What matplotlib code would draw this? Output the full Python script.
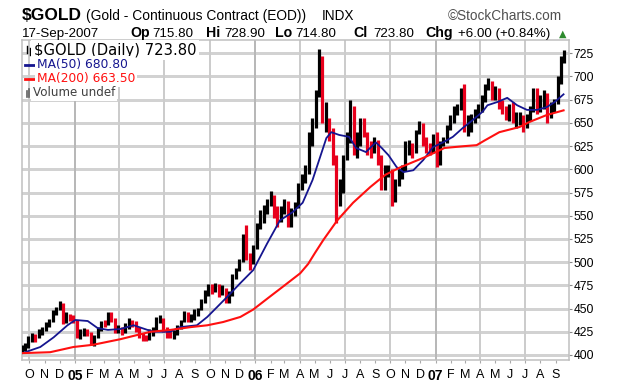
import matplotlib
matplotlib.use('Agg')
import matplotlib.pyplot as plt
import matplotlib.dates as mdates
from matplotlib.lines import Line2D
import pandas as pd

# ---------------- data (weekly bars) ----------------
first_week = '2004-09-17'   # weekly bars, Friday week-ends
last_day = '2007-09-17'     # final (single-day) bar

high = [411, 413, 420, 424, 423, 428, 430, 436, 439, 448, 452, 458, 456, 446, 444, 443,
        438, 428, 429, 428, 425, 422, 430, 437, 438, 446, 446, 440, 432, 430, 434, 440,
        438, 437, 430, 424, 422, 428, 430, 441, 443, 440, 430, 428, 427, 432, 438, 447,
        446, 444, 449, 451, 460, 470, 477, 476, 478, 476, 475, 472, 469, 487, 494, 503,
        530, 540, 510, 518, 542, 556, 562, 568, 577, 572, 560, 560, 568, 566, 558, 565,
        585, 595, 605, 640, 655, 685, 730, 722, 672, 655, 645, 615, 590, 615, 640, 675,
        668, 640, 655, 655, 640, 630, 635, 632, 615, 605, 605, 600, 590, 600, 605, 630,
        632, 628, 642, 652, 650, 635, 628, 638, 640, 630, 635, 648, 658, 668, 670, 688,
        692, 658, 660, 665, 670, 680, 692, 698, 695, 690, 688, 675, 668, 670, 672, 662,
        662, 658, 660, 668, 688, 688, 680, 685, 682, 672, 676, 700, 722, 729]
low = [402, 404, 408, 414, 414, 418, 422, 426, 430, 436, 443, 448, 433, 434, 437, 434,
       418, 417, 420, 420, 411, 410, 418, 426, 430, 432, 436, 424, 424, 422, 424, 428,
       430, 425, 418, 415, 415, 416, 420, 426, 434, 425, 418, 418, 417, 421, 428, 435,
       436, 436, 438, 442, 448, 456, 464, 466, 468, 463, 465, 456, 456, 464, 482, 490,
       500, 502, 492, 498, 514, 536, 542, 552, 560, 548, 538, 543, 552, 538, 538, 550,
       558, 578, 585, 595, 625, 645, 678, 650, 640, 630, 605, 542, 560, 575, 610, 628,
       615, 612, 625, 635, 615, 612, 618, 605, 578, 578, 592, 560, 565, 582, 590, 598,
       615, 612, 618, 638, 625, 618, 615, 618, 602, 605, 625, 628, 642, 650, 658, 664,
       640, 636, 640, 650, 655, 662, 672, 685, 675, 675, 665, 660, 653, 652, 650, 645,
       648, 640, 645, 652, 662, 660, 662, 665, 650, 655, 662, 670, 692, 715]
close = [406, 409, 418, 420, 419, 426, 428, 434, 436, 446, 450, 454, 437, 443, 442, 438,
         420, 423, 427, 423, 415, 420, 428, 435, 433, 444, 440, 427, 428, 425, 430, 437,
         436, 428, 420, 419, 418, 425, 427, 438, 440, 428, 423, 421, 424, 430, 436, 445,
         440, 440, 446, 449, 458, 467, 473, 472, 474, 467, 472, 460, 466, 485, 492, 500,
         525, 505, 500, 513, 540, 550, 557, 566, 570, 555, 545, 555, 565, 540, 554, 560,
         582, 590, 596, 630, 650, 680, 718, 655, 655, 642, 610, 570, 580, 613, 630, 665,
         620, 630, 650, 640, 625, 620, 630, 612, 583, 597, 600, 570, 585, 595, 598, 620,
         624, 620, 640, 650, 630, 622, 620, 635, 608, 627, 630, 645, 655, 665, 665, 685,
         650, 650, 655, 660, 665, 675, 690, 690, 680, 685, 670, 665, 655, 665, 655, 655,
         655, 650, 655, 665, 683, 665, 675, 680, 660, 668, 673, 695, 717, 724]

ma50_dates = ['2004-09-17', '2004-10-23', '2004-11-19', '2004-12-17', '2005-01-02', '2005-01-27',
              '2005-02-16', '2005-03-09', '2005-04-03', '2005-04-30', '2005-05-28', '2005-06-10',
              '2005-07-13', '2005-08-02', '2005-09-05', '2005-09-26', '2005-10-16', '2005-11-05',
              '2005-12-02', '2005-12-28', '2006-01-25', '2006-02-20', '2006-03-18', '2006-04-07',
              '2006-04-27', '2006-05-15', '2006-05-25', '2006-06-04', '2006-06-20', '2006-07-10',
              '2006-07-24', '2006-08-13', '2006-09-02', '2006-09-14', '2006-09-28', '2006-10-14',
              '2006-10-28', '2006-11-17', '2006-12-07', '2006-12-27', '2007-01-16', '2007-02-05',
              '2007-02-25', '2007-03-17', '2007-04-06', '2007-04-16', '2007-05-06', '2007-05-26',
              '2007-06-15', '2007-07-05', '2007-07-25', '2007-08-14', '2007-08-30', '2007-09-17']
ma50_vals = [402, 408.6, 419, 432, 437.7, 436.6, 429, 427, 428, 432, 427, 425,
             425, 430, 432, 441, 451.7, 462.5, 477.5, 491.5, 520, 545, 554, 564,
             588.5, 617.6, 633.7, 640, 637, 635, 623, 618.6, 629, 623, 615, 602.5,
             597, 599, 610, 624, 629, 635, 644.5, 653, 662, 669, 672.5, 677,
             669, 664, 664, 667, 672.5, 680.8]

ma200_dates = ['2004-09-17', '2004-11-12', '2004-12-29', '2005-02-07', '2005-04-03', '2005-05-07',
               '2005-06-03', '2005-07-13', '2005-08-23', '2005-09-26', '2005-10-28', '2005-12-02',
               '2005-12-28', '2006-01-31', '2006-02-27', '2006-04-02', '2006-04-18', '2006-05-02',
               '2006-05-19', '2006-06-16', '2006-07-18', '2006-08-22', '2006-09-21', '2006-10-21',
               '2006-12-10', '2007-01-19', '2007-03-01', '2007-03-25', '2007-04-10', '2007-05-10',
               '2007-06-20', '2007-07-10', '2007-08-14', '2007-09-17']
ma200_vals = [402, 403, 408.6, 411, 417, 421.5, 425, 427, 430, 432, 435.5, 441,
              449, 463, 474, 488, 498, 510, 524, 545, 564, 581, 594, 602,
              613, 623, 625, 626, 631, 640, 645.6, 651, 658.5, 663.5]

y_ticks = list(range(400, 726, 25))
month_letters = ['J', 'F', 'M', 'A', 'M', 'J', 'J', 'A', 'S', 'O', 'N', 'D']

# ---------------- figure ----------------
W, H = 620, 383
fig = plt.figure(figsize=(W / 100, H / 100), dpi=100)
fig.patch.set_facecolor('white')


def fx(x):
    return x / W


def fy(y):
    return 1 - y / H


ax = fig.add_axes([fx(22), fy(360), (569 - 22) / W, (360 - 40) / H])

weeks = list(pd.date_range(first_week, periods=len(high) - 1, freq='W-FRI'))
bar_dates = [d - pd.Timedelta(days=2) for d in weeks] + [pd.Timestamp(last_day)]
xb = mdates.date2num(bar_dates)
cols = ['black'] + ['#e8001c' if close[i] < close[i - 1] else 'black' for i in range(1, len(close))]
ax.vlines(xb, low, high, colors=cols, lw=2.3, zorder=3)

ax.plot(mdates.date2num(pd.to_datetime(ma50_dates)), ma50_vals, color='#15158f', lw=1.3, zorder=4)
ax.plot(mdates.date2num(pd.to_datetime(ma200_dates)), ma200_vals, color='#ff1010', lw=1.5, zorder=4)

ax.set_xlim(mdates.date2num(pd.Timestamp('2004-09-16')), mdates.date2num(pd.Timestamp('2007-09-28')))
ax.set_ylim(394.6, 739.3)

# grid (crisp, non-antialiased lines)
for yv in y_ticks:
    ax.axhline(yv, color='#d2d2d2', lw=1.0, zorder=1, antialiased=False)
months = pd.date_range('2004-10-01', '2007-09-01', freq='MS')
for m in months:
    if m.month == 1:
        ax.axvline(mdates.date2num(m), color='#b8b8b8', lw=1.44, zorder=1.5, antialiased=False)
    elif m.month in (4, 7, 10):
        ax.axvline(mdates.date2num(m), color='#cccccc', lw=1.44, zorder=1.5, antialiased=False)

ax.set_xticks(mdates.date2num(months))
labels = [('%02d' % (m.year % 100)) if m.month == 1 else month_letters[m.month - 1] for m in months]
ax.set_xticklabels(labels)
for lab, m in zip(ax.get_xticklabels(), months):
    lab.set_fontfamily('Liberation Sans')
    lab.set_fontsize(9)
    if m.month == 1:
        lab.set_fontweight('bold')
        lab.set_fontsize(10)
ax.tick_params(axis='x', length=2.5, width=0.8, color='#aaaaaa', pad=4)

ax.yaxis.tick_right()
ax.set_yticks(y_ticks)
ax.set_yticklabels([str(v) for v in y_ticks])
for lab in ax.get_yticklabels():
    lab.set_fontfamily('Liberation Sans')
    lab.set_fontsize(8.7)
ax.tick_params(axis='y', length=2.5, width=0.8, color='#888888', pad=0.6)

for s in ax.spines.values():
    s.set_color('#c0c0c0')
    s.set_linewidth(1.1)

# ---------------- header texts ----------------
ff = 'Liberation Sans'
fig.text(fx(22), fy(20), '$GOLD', fontsize=12.5, fontweight='bold', family=ff, va='baseline')
fig.text(fx(86), fy(20), '(Gold - Continuous Contract (EOD))', fontsize=9.9, family=ff, va='baseline')
fig.text(fx(322), fy(20), 'INDX', fontsize=9.8, family=ff, va='baseline')
fig.text(fx(448), fy(20), '\u00a9StockCharts.com', fontsize=9.8, family=ff, va='baseline', color='#505050')

fig.text(fx(22), fy(37), '17-Sep-2007', fontsize=9.6, family=ff, va='baseline')
segs = [(130, 'Op', True), (152, '715.80', False), (206, 'Hi', True), (224, '728.90', False),
        (275, 'Lo', True), (295, '714.80', False), (353, 'Cl', True), (373, '723.80', False),
        (425, 'Chg', True), (458, '+6.00 (+0.84%)', False)]
for x, t, b in segs:
    fig.text(fx(x), fy(37), t, fontsize=10.2 if b else 9.6, family=ff, va='baseline',
             fontweight='bold' if b else 'normal')
fig.text(fx(559), fy(37), '\u25b2', fontsize=7, family='DejaVu Sans', va='baseline', color='#2d8a2d')

# ---------------- legend block ----------------
lf = 'DejaVu Sans'
bb = dict(facecolor='white', edgecolor='none', pad=1.2)
fig.text(fx(34), fy(50), '$GOLD (Daily) 723.80', fontsize=10.6, family=lf, va='center', color='black',
         bbox=dict(facecolor='white', edgecolor='none', pad=2.0))
fig.text(fx(37), fy(64.5), 'MA(50) 680.80', fontsize=8.8, family=lf, va='center', color='#15158f', bbox=bb)
fig.text(fx(37), fy(78.5), 'MA(200) 663.50', fontsize=8.8, family=lf, va='center', color='#ff1010', bbox=bb)
fig.text(fx(33), fy(92.5), 'Volume undef', fontsize=8.6, family=lf, va='center', color='#404040', bbox=bb)

# legend glyphs
for (x0, x1, y, c, lw) in [(25, 37, 64.5, '#15158f', 2.0), (25, 37, 78.5, '#ff1010', 2.0)]:
    fig.add_artist(Line2D([fx(x0), fx(x1)], [fy(y), fy(y)], color=c, lw=lw, transform=fig.transFigure))
# small OHLC-bar icon
for (x, y0, y1) in [(27, 46, 53), (30, 47.5, 55), (32.5, 45.5, 52)]:
    fig.add_artist(Line2D([fx(x), fx(x)], [fy(y0), fy(y1)], color='black', lw=1.0, transform=fig.transFigure))
# small volume icon
for (x, y0) in [(27, 91), (29.5, 89), (32, 93)]:
    fig.add_artist(Line2D([fx(x), fx(x)], [fy(y0), fy(97)], color='#606060', lw=1.2, transform=fig.transFigure))

fig.savefig('out.png', dpi=100, facecolor='white')
